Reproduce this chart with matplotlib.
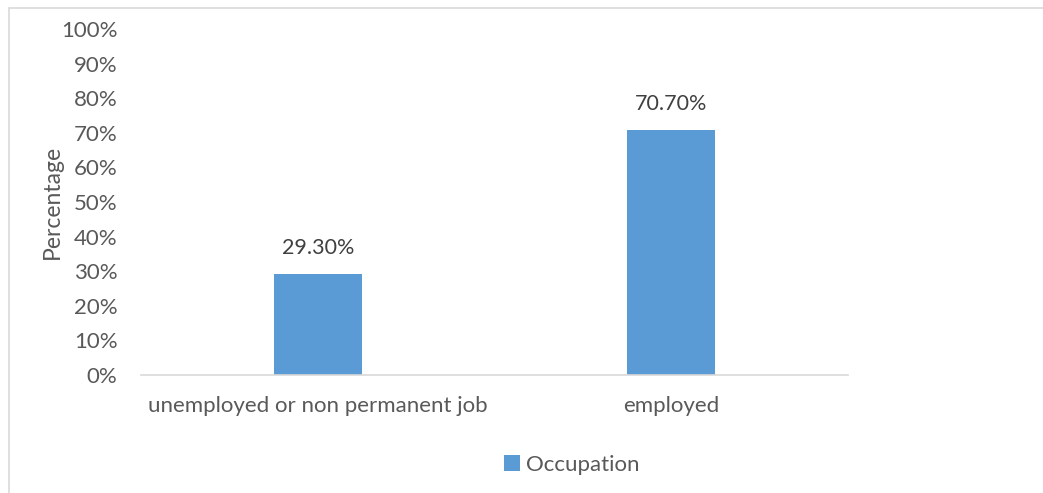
import matplotlib
matplotlib.use("Agg")
import matplotlib.pyplot as plt
from matplotlib.patches import Rectangle
from matplotlib.ticker import FuncFormatter

categories = ["unemployed or non permanent job", "employed"]
values = [29.30, 70.70]
series_name = "Occupation"

plt.rcParams["font.family"] = ["Lato", "DejaVu Sans"]
text_color = "#595959"
bar_color = "#5b9bd5"

fig = plt.figure(figsize=(10.43, 4.93), dpi=100)
ax = fig.add_axes([141/1043, 1 - 375/493, 707/1043, 346/493])

# light frame around the chart area
fig.patches.append(Rectangle((9/1043, -0.1), 1.2, 1.1 - 8/493, transform=fig.transFigure,
                             fill=False, edgecolor="#d9d9d9", lw=1.2))

x = range(len(categories))
bars = ax.bar(x, values, width=0.25, color=bar_color, label=series_name, zorder=2)
for b, v in zip(bars, values):
    ax.text(b.get_x() + b.get_width() / 2, v + 4.6, "{:.2f}%".format(v),
            ha="center", va="bottom", fontsize=15.5, color="#404040")

ax.set_xlim(-0.5, 1.5)
ax.set_ylim(0, 100)
ax.set_yticks(range(0, 101, 10))
ax.yaxis.set_major_formatter(FuncFormatter(lambda v, p: "{:.0f}%".format(v)))
ax.set_xticks(list(x))
ax.set_xticklabels(categories)
ax.tick_params(axis="both", length=0, labelsize=16, colors=text_color)
ax.tick_params(axis="x", pad=15)
ax.tick_params(axis="y", pad=17)
for s in ["top", "right", "left"]:
    ax.spines[s].set_visible(False)
ax.spines["bottom"].set_color("#d9d9d9")
ax.spines["bottom"].set_linewidth(1.2)
ax.set_ylabel("Percentage", fontsize=16.5, color=text_color)
ax.yaxis.set_label_coords(-0.111, 0.5)

leg = fig.legend(loc="center", bbox_to_anchor=(572/1043, 1 - 465/493), frameon=False,
                 fontsize=16, handlelength=0.7, handleheight=0.7, handletextpad=0.3)
for t in leg.get_texts():
    t.set_color(text_color)

plt.savefig("out.png", dpi=100)
